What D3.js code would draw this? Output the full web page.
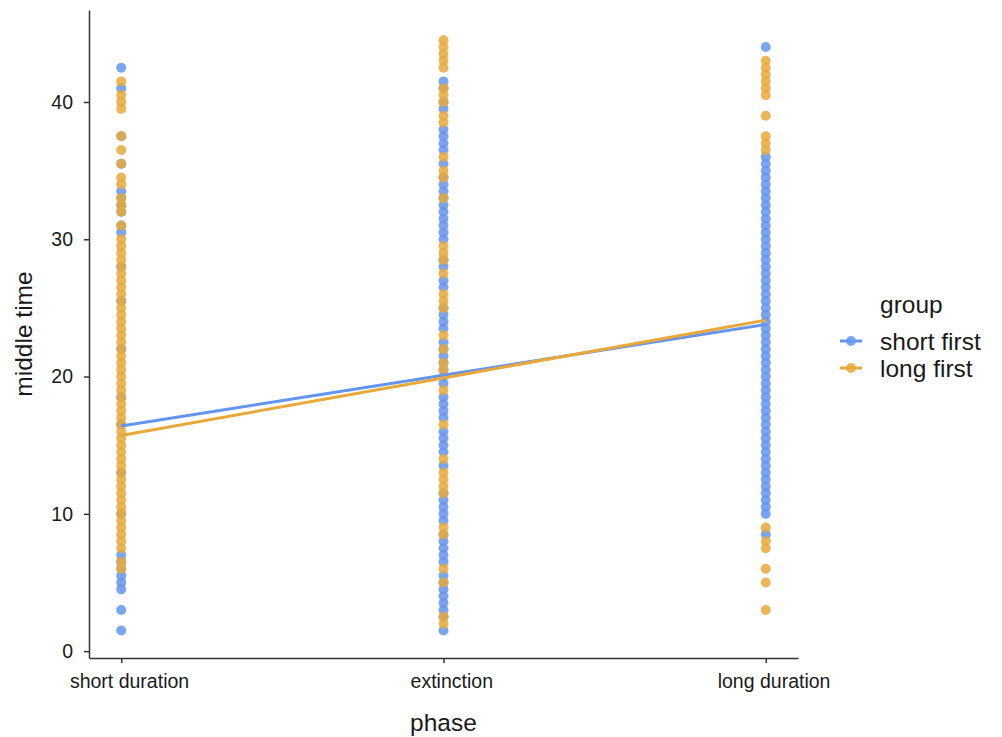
<!DOCTYPE html>
<html lang = 'en'>
    <head>
        <meta charset = 'UTF-8'>
        <title>middle time by phase</title>
        <script src="https://d3js.org/d3.v7.min.js"></script>
        <style>
            body {
                margin: 0;
                background-color: white;
                font-family: 'Liberation Sans', Arial, sans-serif;
            }
            .tick text {
                font-size: 19.5px;
                fill: #1a1a1a;
            }
            .title {
                font-size: 24.5px;
                fill: #1a1a1a;
            }
        </style>
    </head>
    <body>
        <svg id = 'chart' width = '1002' height = '737'></svg>
        <script>
            // categories and groups
            let phases = ['short duration', 'extinction', 'long duration']
            let groups = ['short first', 'long first']
            let colors = ['#6495ED', '#E8A93A']
            let yTicks = [0, 10, 20, 30, 40]

            // middle time values (short first group)
            let sfShortDur = [42.5, 41, 37.5, 35.5, 33.5, 33, 32.5, 32, 31, 30.5, 28, 25.5, 22, 18.5, 16.5, 13, 10,
                7, 6.5, 6, 5.5, 5, 4.5, 3, 1.5]
            let sfExtinction = [1.5, 2.5, 3, 3.5, 4, 4.5, 5, 5.5, 6.5, 7, 7.5, 8, 8.5, 9.5, 10, 10.5, 11, 11.5,
                13.5, 14.5, 15, 15.5, 16, 17, 17.5, 18, 18.5, 19.5, 20, 20.5, 21, 21.5, 22, 22.5, 23.5, 24, 24.5,
                25, 26.5, 27, 28, 28.5, 30, 30.5, 31, 31.5, 32, 32.5, 33, 33.5, 34, 34.5, 35.5, 36.5, 37, 37.5, 38,
                39.5, 40, 41, 41.5]
            let sfLongDur = [44, 36, 35.5, 35, 34.5, 34, 33.5, 33, 32.5, 32, 31.5, 31, 30.5, 30, 29.5, 29, 28.5,
                28, 27.5, 27, 26.5, 26, 25.5, 25, 24.5, 24, 23.5, 23, 22.5, 22, 21.5, 21, 20.5, 20, 19.5, 19, 18.5,
                18, 17.5, 17, 16.5, 16, 15.5, 15, 14.5, 14, 13.5, 13, 12.5, 12, 11.5, 11, 10.5, 10, 8.5]

            // long first group
            let lfShortDur = [41.5, 40.5, 40, 39.5, 37.5, 36.5, 35.5, 34.5, 34, 33, 32.5, 32, 31, 30, 29.5, 29,
                28.5, 28, 27.5, 27, 26.5, 26, 25.5, 25, 24.5, 24, 23.5, 23, 22.5, 22, 21.5, 21, 20.5, 20, 19.5, 19,
                18.5, 18, 17.5, 17, 16.5, 16, 15.5, 15, 14.5, 14, 13.5, 13, 12.5, 12, 11.5, 11, 10.5, 10, 9.5, 9,
                8.5, 8, 7.5, 6.5, 6]
            let lfExtinction = [44.5, 44, 43.5, 43, 42.5, 41, 40.5, 40, 39, 38.5, 36, 35, 34.5, 33, 29.5, 29, 28.5,
                27.5, 26, 25.5, 25, 23, 22, 21, 20.5, 19, 16.5, 14, 13, 12.5, 12, 11.5, 9, 8.5, 6, 5, 2.5, 2]
            let lfLongDur = [43, 42.5, 42, 41.5, 41, 40.5, 39, 37.5, 37, 36.5, 9, 8, 7.5, 6, 5, 3]

            // fitted linear trend per group, at each phase
            let fitShortFirst = [16.4, 20.1, 23.8]
            let fitLongFirst = [15.7, 19.9, 24.1]

            let width = 1002
            let height = 737
            let svg = d3.select('#chart')

            let x = d3.scaleLinear()
                .domain([0.9, 3.1])
                .range([89, 798])
            let y = d3.scaleLinear()
                .domain([-0.5, 46.7])
                .range([658, 10])

            let pointData = []
            let sfSets = [sfShortDur, sfExtinction, sfLongDur]
            let lfSets = [lfShortDur, lfExtinction, lfLongDur]
            sfSets.forEach((vals, i) => vals.forEach(v => pointData.push({phase: i + 1, value: v, group: 0})))
            lfSets.forEach((vals, i) => vals.forEach(v => pointData.push({phase: i + 1, value: v, group: 1})))

            // points
            svg.append('g')
                .selectAll('circle')
                .data(pointData)
                .enter()
                .append('circle')
                .attr('cx', d => x(d.phase))
                .attr('cy', d => y(d.value))
                .attr('r', 5)
                .attr('fill', d => colors[d.group])
                .attr('fill-opacity', 0.85)

            // trend lines
            let line = d3.line()
                .x((d, i) => x(i + 1))
                .y(d => y(d))
            ;[fitShortFirst, fitLongFirst].forEach((fit, g) => {
                svg.append('path')
                    .datum(fit)
                    .attr('d', line)
                    .attr('fill', 'none')
                    .attr('stroke', colors[g])
                    .attr('stroke-width', 3)
            })

            // axes
            let yAxis = svg.append('g')
                .attr('transform', `translate(${x(0.9)},0)`)
                .call(d3.axisLeft(y).tickValues(yTicks).tickSize(5).tickSizeOuter(0).tickPadding(11))
            let xAxis = svg.append('g')
                .attr('transform', `translate(0,${y(-0.5)})`)
                .call(d3.axisBottom(x).tickValues([1, 2, 3]).tickFormat(d => phases[d - 1])
                    .tickSize(5).tickSizeOuter(0).tickPadding(11))
            xAxis.selectAll('.tick text').attr('dx', '0.4em')
            ;[xAxis, yAxis].forEach(a => {
                a.attr('font-family', null).attr('font-size', null)
                a.selectAll('.domain, .tick line').attr('stroke', '#333').attr('stroke-width', 1.5)
            })

            // axis titles
            svg.append('text')
                .attr('class', 'title')
                .attr('x', x(2))
                .attr('y', 731)
                .attr('text-anchor', 'middle')
                .text('phase')
            svg.append('text')
                .attr('class', 'title')
                .attr('transform', `translate(32,${(y(-0.5) + y(46.7)) / 2}) rotate(-90)`)
                .attr('text-anchor', 'middle')
                .text('middle time')

            // legend
            let legend = svg.append('g').attr('transform', 'translate(840,313)')
            legend.append('text')
                .attr('class', 'title')
                .attr('x', 40)
                .attr('y', 0)
                .text('group')
            groups.forEach((name, i) => {
                let row = legend.append('g').attr('transform', `translate(0,${28 + i * 27})`)
                row.append('line')
                    .attr('x1', 0).attr('x2', 22)
                    .attr('stroke', colors[i])
                    .attr('stroke-width', 3)
                row.append('circle')
                    .attr('cx', 11)
                    .attr('r', 5)
                    .attr('fill', colors[i])
                    .attr('fill-opacity', 0.85)
                row.append('text')
                    .attr('class', 'title')
                    .attr('x', 40)
                    .attr('dy', '0.35em')
                    .text(name)
            })
        </script>
    </body>
</html>
